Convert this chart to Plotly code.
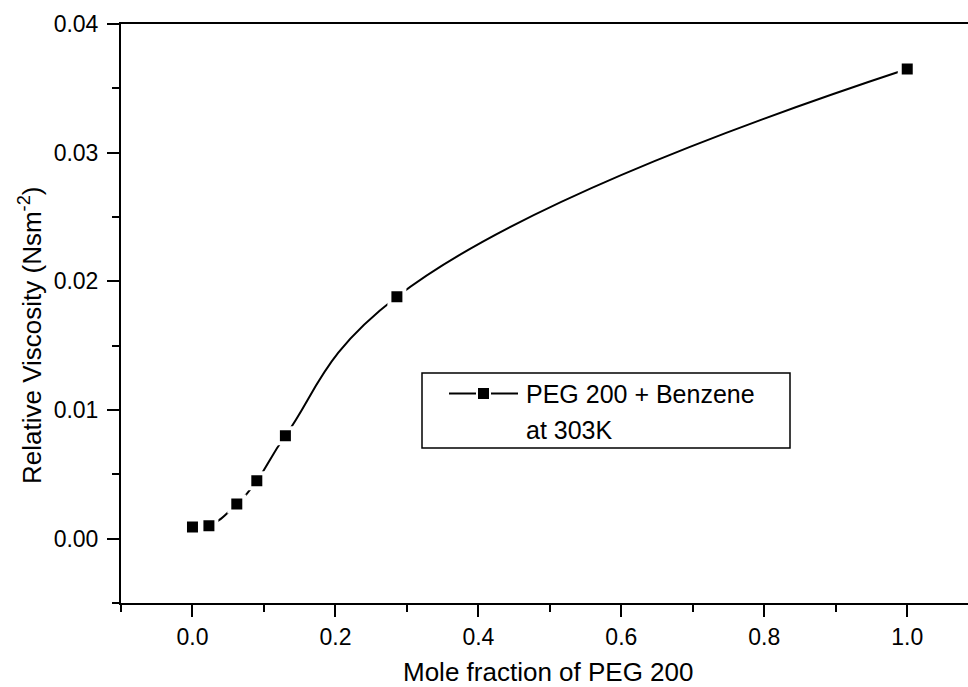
import plotly.graph_objects as go

# Relative viscosity of PEG 200 + benzene mixtures at 303 K
mole_fraction = [0.0, 0.023, 0.062, 0.090, 0.130, 0.286, 1.0]
viscosity = [0.0009, 0.0010, 0.0027, 0.0045, 0.0080, 0.0188, 0.0365]
series_label = ["PEG 200 + Benzene", "at 303K"]

x_tick_vals = [0.0, 0.2, 0.4, 0.6, 0.8, 1.0]
x_tick_text = ["0.0", "0.2", "0.4", "0.6", "0.8", "1.0"]
y_tick_vals = [0.00, 0.01, 0.02, 0.03, 0.04]
y_tick_text = ["0.00", "0.01", "0.02", "0.03", "0.04"]

FONT = "Liberation Sans, Arial, sans-serif"
W, H = 968, 687
ML, MR, MT, MB = 121, 0, 24, 84
PW, PH = W - ML - MR, H - MT - MB


def px_x(p):
    """pixel column -> paper x"""
    return (p - ML) / PW


def px_y(p):
    """pixel row -> paper y"""
    return (H - MB - p) / PH


fig = go.Figure()
fig.add_trace(go.Scatter(
    x=mole_fraction,
    y=viscosity,
    mode="lines+markers",
    name=" ".join(series_label),
    showlegend=False,
    line=dict(color="black", width=2, shape="spline", smoothing=1.3),
    # white outline leaves a small gap between the curve and each square
    marker=dict(symbol="square", size=15, color="black",
                line=dict(color="white", width=4)),
))

# boxed key: line - square - line, then the two-line label
shapes = [
    dict(type="rect", xref="paper", yref="paper",
         x0=px_x(422), x1=px_x(790), y0=px_y(448), y1=px_y(373),
         line=dict(color="black", width=1.5), fillcolor="white", layer="above"),
    dict(type="line", xref="paper", yref="paper",
         x0=px_x(449), x1=px_x(476), y0=px_y(393.5), y1=px_y(393.5),
         line=dict(color="black", width=2), layer="above"),
    dict(type="line", xref="paper", yref="paper",
         x0=px_x(491), x1=px_x(518), y0=px_y(393.5), y1=px_y(393.5),
         line=dict(color="black", width=2), layer="above"),
    dict(type="rect", xref="paper", yref="paper",
         x0=px_x(478), x1=px_x(489), y0=px_y(399), y1=px_y(388),
         line=dict(width=0), fillcolor="black", layer="above"),
]

annotations = [
    dict(text=series_label[0], xref="paper", yref="paper",
         x=px_x(524), y=px_y(394), xanchor="left", yanchor="middle",
         showarrow=False, font=dict(family=FONT, size=25, color="black")),
    dict(text=series_label[1], xref="paper", yref="paper",
         x=px_x(524), y=px_y(430), xanchor="left", yanchor="middle",
         showarrow=False, font=dict(family=FONT, size=25, color="black")),
    # axis titles
    dict(text="Relative Viscosity (Nsm<sup>-2</sup>)", xref="paper", yref="paper",
         x=px_x(30), y=px_y(336), xanchor="center", yanchor="middle",
         textangle=-90, showarrow=False,
         font=dict(family=FONT, size=26, color="black")),
    dict(text="Mole fraction of PEG 200", xref="paper", yref="paper",
         x=px_x(548), y=px_y(672), xanchor="center", yanchor="middle",
         showarrow=False, font=dict(family=FONT, size=26, color="black")),
]

fig.update_layout(
    width=W,
    height=H,
    margin=dict(l=ML, r=MR, t=MT, b=MB),
    paper_bgcolor="white",
    plot_bgcolor="white",
    font=dict(family=FONT, color="black", size=23),
    showlegend=False,
    shapes=shapes,
    annotations=annotations,
)

fig.update_xaxes(
    range=[-0.1, 1.085],
    automargin=False,
    showgrid=False, zeroline=False,
    showline=True, linecolor="black", linewidth=2, mirror=True,
    ticks="outside", ticklen=12, tickwidth=2, tickcolor="black",
    tickvals=x_tick_vals, ticktext=x_tick_text,
    tickfont=dict(family=FONT, size=23),
    minor=dict(dtick=0.1, tick0=0, ticks="outside", ticklen=7,
               tickwidth=2, tickcolor="black"),
)

fig.update_yaxes(
    range=[-0.005, 0.04],
    automargin=False,
    showgrid=False, zeroline=False,
    showline=True, linecolor="black", linewidth=2,
    ticks="outside", ticklen=12, tickwidth=2, tickcolor="black",
    tickvals=y_tick_vals, ticktext=y_tick_text,
    tickfont=dict(family=FONT, size=23),
    ticklabelstandoff=4,
    minor=dict(dtick=0.005, tick0=0, ticks="outside", ticklen=7,
               tickwidth=2, tickcolor="black"),
)

fig.write_html("out.html")
